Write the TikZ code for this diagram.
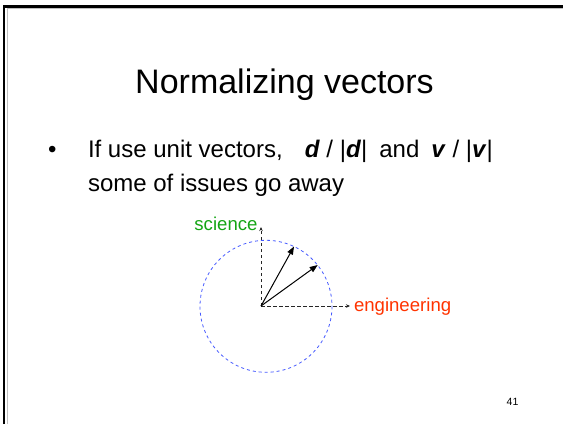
\documentclass[tikz,border=0pt]{standalone}
\usepackage{fontspec}
\setmainfont{Liberation Sans}
\usetikzlibrary{arrows.meta}
\definecolor{scigreen}{RGB}{20,165,20}
\definecolor{engred}{RGB}{255,51,0}
\definecolor{circblue}{RGB}{70,90,255}
\begin{document}
\begin{tikzpicture}[x=1pt,y=-1pt,
  txt/.style={inner sep=0pt,outer sep=0pt,anchor=base west},
  axis/.style={draw=black!85,line width=0.9pt,dash pattern=on 3.5pt off 2.5pt,-{Stealth[length=4pt,width=3.5pt]}},
  vec/.style={draw=black,line width=1pt,-{Triangle[length=8pt,width=6pt]}},
  unitcirc/.style={draw=circblue,line width=0.8pt,dash pattern=on 3pt off 3pt}]
\useasboundingbox (0,0) rectangle (563,424);
% slide frame
\draw[black!25,line width=1pt] (7,424) -- (7,8.7) -- (563,8.7);
\draw[black,line width=2.5pt] (4,424) -- (4,6.5) -- (563,6.5);
% title
\node[inner sep=0pt,anchor=base] (title) at (284.5,93) {\fontsize{34}{40}\selectfont Normalizing vectors};
% bullet text
\node[txt] (bullet) at (48,157) {\fontsize{24}{28}\selectfont •};
\node[txt] (line1) at (88,157) {\fontsize{24}{28}\selectfont If use unit vectors,\hspace{22pt}\textbf{\textit{d}} / |\textbf{\textit{d}}|\hspace{12pt}and\hspace{12pt}\textbf{\textit{v}} / |\textbf{\textit{v}}|};
\node[txt] (line2) at (88,191.5) {\fontsize{24}{28}\selectfont some of issues go away};
% diagram
\coordinate (o) at (261,306);
\coordinate (ytip) at (261,227);
\coordinate (xtip) at (350,306);
\coordinate (v1) at (294,246.5);
\coordinate (v2) at (317.7,265);
\coordinate (cc) at (266,306.3);
\draw[unitcirc] (cc) circle[radius=66];
\draw[axis] (o) -- (ytip);
\draw[axis] (o) -- (xtip);
\draw[vec] (o) -- (v1);
\draw[vec] (o) -- (v2);
\node[txt,anchor=base east,text=scigreen] (sci) at (257.5,230) {\fontsize{18.6}{22}\selectfont science};
\node[txt,text=engred] (eng) at (354,311.5) {\fontsize{18.6}{22}\selectfont engineering};
% page number
\node[inner sep=0pt,anchor=base] (pnum) at (512.5,405) {\fontsize{10.5}{12}\selectfont 41};
\end{tikzpicture}
\end{document}
